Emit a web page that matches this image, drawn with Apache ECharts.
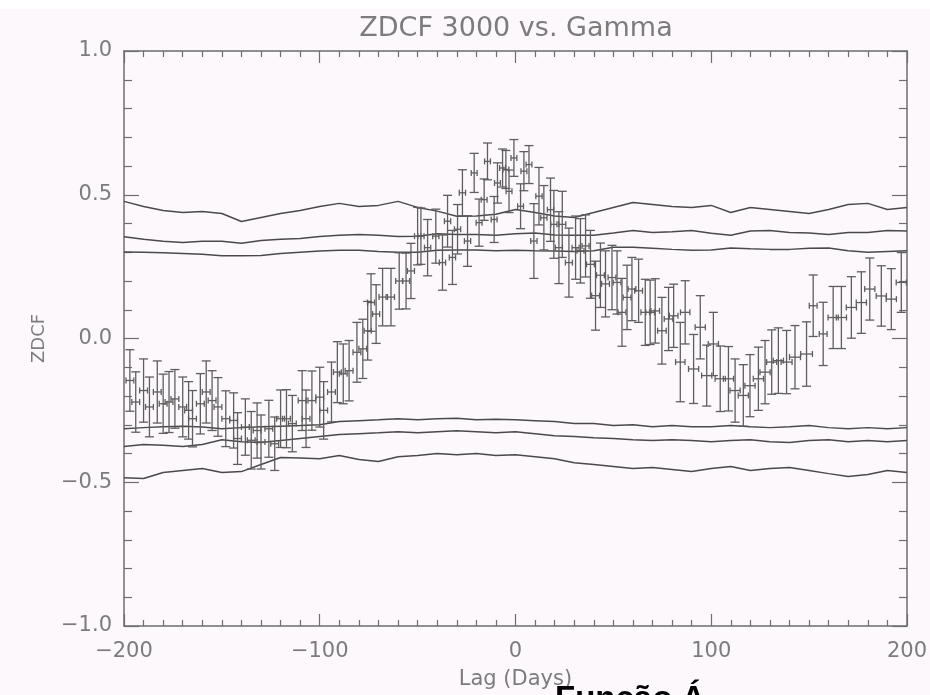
<!DOCTYPE html>
<html>
<head>
<meta charset="utf-8">
<script src="https://cdn.jsdelivr.net/npm/echarts/dist/echarts.min.js"></script>
<style>
  html, body { margin: 0; padding: 0; background: #fdf8fc; }
  #chart { width: 930px; height: 695px; }
</style>
</head>
<body>
<div id="chart"></div>
<script>
// ZDCF points: lag (days), coefficient, vertical error, lag error
var lags = [-197, -194, -190, -187, -183, -180, -177, -174, -170, -167, -165, -161, -158, -155, -152, -148, -144, -142, -138, -135,
  -132, -130, -126, -123, -120, -117, -114, -109, -107, -104, -100, -98, -94, -91, -88, -85, -81, -78, -75.5, -73.8,
  -71.2, -67.9, -63.6, -59.4, -55.9, -53.4, -50.0, -48.3, -44.9, -40.7, -37.3, -34.7, -32.2, -29.6, -27.1, -24.5, -21.1, -18.6, -16.0, -14.3,
  -10.9, -9.2, -6.6, -4.9, -3.3, -0.8, 2.6, 4.3, 6.9, 9.4, 12.0, 14.5, 17.9, 19.6, 22.2, 23.9, 27.3, 30.7, 33.2, 35.8,
  38.3, 40.9, 43.4, 46.0, 49.3, 51.9, 54.4, 57.0, 59.5, 62.9, 66.3, 68.8, 71.4, 74.8, 78.2, 80.8, 84.2, 86.7, 91.0, 94.4,
  97.7, 101.1, 104.6, 108.8, 112.2, 116.4, 119.8, 124.1, 127.5, 130.9, 134.3, 138.5, 142.8, 148.7, 152.1, 157.2, 162.3, 166.5, 171.6, 176.7,
  181.0, 186.9, 192.0, 197.1];
var zdcf = [-0.146, -0.221, -0.181, -0.238, -0.186, -0.227, -0.221, -0.210, -0.238, -0.250, -0.279, -0.227, -0.186, -0.216, -0.238, -0.279, -0.285, -0.348, -0.308, -0.354,
  -0.320, -0.360, -0.314, -0.366, -0.279, -0.279, -0.296, -0.216, -0.279, -0.216, -0.204, -0.250, -0.186, -0.117, -0.123, -0.112, -0.048, -0.036, 0.027, 0.125,
  0.085, 0.144, 0.144, 0.200, 0.200, 0.235, 0.356, 0.356, 0.316, 0.356, 0.264, 0.408, 0.282, 0.380, 0.507, 0.339, 0.576, 0.403, 0.483, 0.616,
  0.414, 0.541, 0.593, 0.588, 0.512, 0.628, 0.460, 0.582, 0.605, 0.339, 0.495, 0.420, 0.448, 0.397, 0.316, 0.397, 0.264, 0.316, 0.305, 0.322,
  0.258, 0.149, 0.220, 0.190, 0.212, 0.195, 0.091, 0.143, 0.172, 0.166, 0.091, 0.091, 0.096, 0.027, 0.068, 0.079, -0.082, 0.091, -0.106, 0.039,
  -0.129, -0.019, -0.140, -0.140, -0.181, -0.198, -0.164, -0.140, -0.117, -0.082, -0.077, -0.082, -0.065, -0.054, 0.114, 0.016, 0.073, 0.073, 0.108, 0.125,
  0.172, 0.148, 0.137, 0.195];
var zdcfErr = [0.107, 0.105, 0.110, 0.104, 0.108, 0.103, 0.106, 0.102, 0.104, 0.100, 0.098, 0.105, 0.108, 0.104, 0.102, 0.097, 0.096, 0.090, 0.098, 0.100,
  0.096, 0.094, 0.099, 0.093, 0.100, 0.101, 0.098, 0.104, 0.100, 0.103, 0.104, 0.100, 0.104, 0.106, 0.104, 0.105, 0.104, 0.103, 0.102, 0.100,
  0.102, 0.100, 0.100, 0.098, 0.097, 0.096, 0.100, 0.098, 0.098, 0.094, 0.096, 0.090, 0.094, 0.086, 0.080, 0.088, 0.068, 0.082, 0.072, 0.064,
  0.080, 0.070, 0.066, 0.066, 0.074, 0.064, 0.078, 0.068, 0.066, 0.130, 0.100, 0.112, 0.110, 0.118, 0.125, 0.115, 0.120, 0.110, 0.112, 0.108,
  0.118, 0.120, 0.112, 0.115, 0.112, 0.110, 0.118, 0.112, 0.110, 0.110, 0.115, 0.112, 0.112, 0.116, 0.110, 0.110, 0.138, 0.110, 0.120, 0.110,
  0.106, 0.110, 0.114, 0.112, 0.110, 0.107, 0.108, 0.110, 0.110, 0.112, 0.114, 0.110, 0.110, 0.112, 0.107, 0.110, 0.108, 0.108, 0.107, 0.107,
  0.108, 0.105, 0.106, 0.104];
var lagErr = [2.0, 2.0, 2.0, 2.0, 2.0, 2.0, 2.0, 2.0, 2.0, 2.0, 2.0, 2.0, 2.0, 2.0, 2.0, 2.0, 2.0, 2.0, 2.0, 2.0,
  2.0, 2.0, 2.0, 2.0, 2.0, 2.0, 2.0, 2.0, 2.0, 2.0, 2.0, 2.0, 2.0, 2.0, 2.0, 2.0, 2.0, 2.0, 1.8, 1.8,
  1.8, 1.8, 1.8, 1.8, 1.8, 1.8, 1.6, 1.6, 1.6, 1.6, 1.6, 1.6, 1.6, 1.6, 1.6, 1.6, 1.5, 1.5, 1.5, 1.5,
  1.5, 1.5, 1.5, 1.5, 1.5, 1.5, 1.5, 1.5, 1.5, 1.6, 1.6, 1.6, 1.6, 1.6, 1.8, 1.8, 1.8, 1.8, 1.8, 1.8,
  2.0, 2.0, 2.0, 2.0, 2.0, 2.0, 2.0, 2.0, 2.0, 2.0, 2.2, 2.2, 2.2, 2.2, 2.2, 2.2, 2.4, 2.4, 2.6, 2.6,
  2.6, 2.6, 2.6, 2.6, 2.6, 2.6, 2.6, 2.6, 2.6, 2.6, 2.6, 2.8, 2.8, 3.0, 2.0, 2.0, 2.6, 2.6, 2.6, 2.6,
  2.6, 2.6, 2.6, 2.6];

// Significance envelopes sampled every 10 days
var envLags = [-200, -190, -180, -170, -160, -150, -140, -130, -120, -110, -100, -90, -80, -70, -60, -50, -40, -30, -20, -10,
  0, 10, 20, 30, 40, 50, 60, 70, 80, 90, 100, 110, 120, 130, 140, 150, 160, 170, 180, 190, 200];
var envUpperOuter = [0.477, 0.459, 0.445, 0.438, 0.442, 0.435, 0.407, 0.421, 0.435, 0.445, 0.459, 0.470, 0.459, 0.463, 0.477, 0.456, 0.443, 0.425, 0.426, 0.432,
  0.449, 0.438, 0.426, 0.421, 0.438, 0.456, 0.473, 0.466, 0.459, 0.456, 0.463, 0.438, 0.456, 0.449, 0.442, 0.435, 0.449, 0.466, 0.470, 0.449, 0.456];
var envUpperMid = [0.354, 0.345, 0.338, 0.334, 0.338, 0.338, 0.331, 0.341, 0.345, 0.348, 0.355, 0.359, 0.362, 0.359, 0.355, 0.356, 0.364, 0.362, 0.362, 0.359,
  0.364, 0.367, 0.360, 0.359, 0.359, 0.367, 0.376, 0.369, 0.371, 0.376, 0.366, 0.359, 0.374, 0.376, 0.369, 0.367, 0.362, 0.369, 0.369, 0.376, 0.374];
var envUpperInner = [0.301, 0.300, 0.298, 0.296, 0.293, 0.288, 0.288, 0.289, 0.296, 0.300, 0.304, 0.307, 0.307, 0.303, 0.300, 0.300, 0.307, 0.308, 0.308, 0.305,
  0.307, 0.305, 0.304, 0.303, 0.305, 0.317, 0.317, 0.314, 0.310, 0.307, 0.308, 0.315, 0.312, 0.310, 0.310, 0.314, 0.315, 0.305, 0.300, 0.303, 0.305];
var envLowerInner = [-0.314, -0.310, -0.307, -0.305, -0.308, -0.314, -0.310, -0.307, -0.305, -0.303, -0.300, -0.289, -0.286, -0.283, -0.279, -0.283, -0.279, -0.277, -0.283, -0.281,
  -0.283, -0.286, -0.289, -0.296, -0.296, -0.303, -0.300, -0.307, -0.303, -0.307, -0.307, -0.303, -0.307, -0.310, -0.307, -0.303, -0.310, -0.314, -0.310, -0.314, -0.310];
var envLowerMid = [-0.376, -0.369, -0.371, -0.376, -0.369, -0.352, -0.359, -0.362, -0.355, -0.348, -0.341, -0.334, -0.331, -0.328, -0.324, -0.328, -0.324, -0.321, -0.324, -0.328,
  -0.324, -0.331, -0.338, -0.341, -0.345, -0.348, -0.352, -0.355, -0.352, -0.355, -0.359, -0.355, -0.352, -0.359, -0.362, -0.355, -0.352, -0.359, -0.355, -0.359, -0.355];
var envLowerOuter = [-0.484, -0.487, -0.466, -0.459, -0.452, -0.466, -0.463, -0.438, -0.414, -0.416, -0.418, -0.407, -0.421, -0.428, -0.411, -0.407, -0.400, -0.404, -0.400, -0.407,
  -0.404, -0.411, -0.418, -0.432, -0.438, -0.445, -0.452, -0.449, -0.456, -0.463, -0.452, -0.445, -0.459, -0.452, -0.449, -0.459, -0.470, -0.480, -0.473, -0.459, -0.466];

var xTicks = [-200, -100, 0, 100, 200];
var yTicks = [-1.0, -0.5, 0.0, 0.5, 1.0];

var ink = '#6e6e6e';
var textInk = '#7c7c7c';
var lineInk = '#4a4a4a';
var barInk = '#5e5e5e';
var fontFamily = '"DejaVu Sans", sans-serif';

function minusSign(s) { return s.replace('-', '\u2212'); }

function xAxis(position, showLabels) {
  return {
    type: 'value', position: position, min: xTicks[0], max: xTicks[xTicks.length - 1], interval: 100,
    axisLine: { show: true, onZero: false, lineStyle: { color: ink, width: 1.5 } },
    axisTick: { show: true, inside: true, length: 12, lineStyle: { color: ink, width: 1.2 } },
    minorTick: { show: true, splitNumber: 10, length: 6, lineStyle: { color: ink, width: 1.2 } },
    splitLine: { show: false },
    axisLabel: {
      show: showLabels, margin: 15, color: textInk, fontSize: 21, fontFamily: fontFamily,
      formatter: function (v) { return minusSign(String(v)); }
    },
    name: showLabels ? 'Lag (Days)' : '', nameLocation: 'middle', nameGap: 43,
    nameTextStyle: { color: textInk, fontSize: 21, fontFamily: fontFamily }
  };
}

function yAxis(position, showLabels) {
  return {
    type: 'value', position: position, min: yTicks[0], max: yTicks[yTicks.length - 1], interval: 0.5,
    axisLine: { show: true, onZero: false, lineStyle: { color: ink, width: 1.5 } },
    axisTick: { show: true, inside: true, length: 15, lineStyle: { color: ink, width: 1.2 } },
    minorTick: { show: true, splitNumber: 5, length: 8, lineStyle: { color: ink, width: 1.2 } },
    splitLine: { show: false },
    axisLabel: {
      show: showLabels, margin: 12, color: textInk, fontSize: 21, fontFamily: fontFamily,
      formatter: function (v) { return minusSign(v.toFixed(1)); }
    },
    name: showLabels ? 'ZDCF' : '', nameLocation: 'middle', nameGap: 76, nameRotate: 90,
    nameTextStyle: { color: textInk, fontSize: 18, fontFamily: fontFamily }
  };
}

function envelope(values) {
  return {
    type: 'line', xAxisIndex: 0, yAxisIndex: 0, showSymbol: false, symbol: 'none', silent: true,
    lineStyle: { color: lineInk, width: 1.5 },
    data: envLags.map(function (l, i) { return [l, values[i]]; }),
    z: 3
  };
}

var points = lags.map(function (l, i) { return [l, zdcf[i], zdcfErr[i], lagErr[i]]; });

var chart = echarts.init(document.getElementById('chart'), null, { renderer: 'canvas' });
chart.setOption({
  backgroundColor: '#fdf8fc',
  animation: false,
  grid: { left: 124, right: 21, top: 51, bottom: 67 },
  xAxis: [xAxis('bottom', true), xAxis('top', false)],
  yAxis: [yAxis('left', true), yAxis('right', false)],
  graphic: [
    { type: 'rect', left: 0, top: 0, shape: { width: 930, height: 9 }, style: { fill: '#ffffff' }, silent: true, z: -1 },
    {
      type: 'text', silent: true, z: 10,
      style: {
        x: 516, y: 29, text: 'ZDCF 3000 vs. Gamma', fill: textInk,
        fontSize: 27, fontFamily: fontFamily, align: 'center', verticalAlign: 'middle'
      }
    },
    {
      type: 'text', silent: true, z: 10,
      style: {
        x: 555, y: 683, text: 'Função Á', fill: '#000000',
        fontSize: 33, fontWeight: 'bold', fontFamily: '"Liberation Sans", Arial, sans-serif',
        verticalAlign: 'top', align: 'left'
      }
    }
  ],
  series: [
    envelope(envUpperOuter), envelope(envUpperMid), envelope(envUpperInner),
    envelope(envLowerInner), envelope(envLowerMid), envelope(envLowerOuter),
    {
      type: 'custom', xAxisIndex: 0, yAxisIndex: 0, silent: true, clip: true, z: 4,
      encode: { x: 0, y: 1 },
      data: points,
      renderItem: function (params, api) {
        var x = api.value(0), y = api.value(1), dz = api.value(2), dl = api.value(3);
        var top = api.coord([x, y + dz]);
        var bot = api.coord([x, y - dz]);
        var left = api.coord([x - dl, y]);
        var right = api.coord([x + dl, y]);
        var cap = 4.5, hcap = 3;
        var st = { stroke: barInk, lineWidth: 1.3 };
        function seg(x1, y1, x2, y2) { return { type: 'line', shape: { x1: x1, y1: y1, x2: x2, y2: y2 }, style: st }; }
        return {
          type: 'group',
          children: [
            seg(top[0], top[1], bot[0], bot[1]),
            seg(top[0] - cap, top[1], top[0] + cap, top[1]),
            seg(bot[0] - cap, bot[1], bot[0] + cap, bot[1]),
            seg(left[0], left[1], right[0], right[1]),
            seg(left[0], left[1] - hcap, left[0], left[1] + hcap),
            seg(right[0], right[1] - hcap, right[0], right[1] + hcap)
          ]
        };
      }
    }
  ]
});
</script>
</body>
</html>
